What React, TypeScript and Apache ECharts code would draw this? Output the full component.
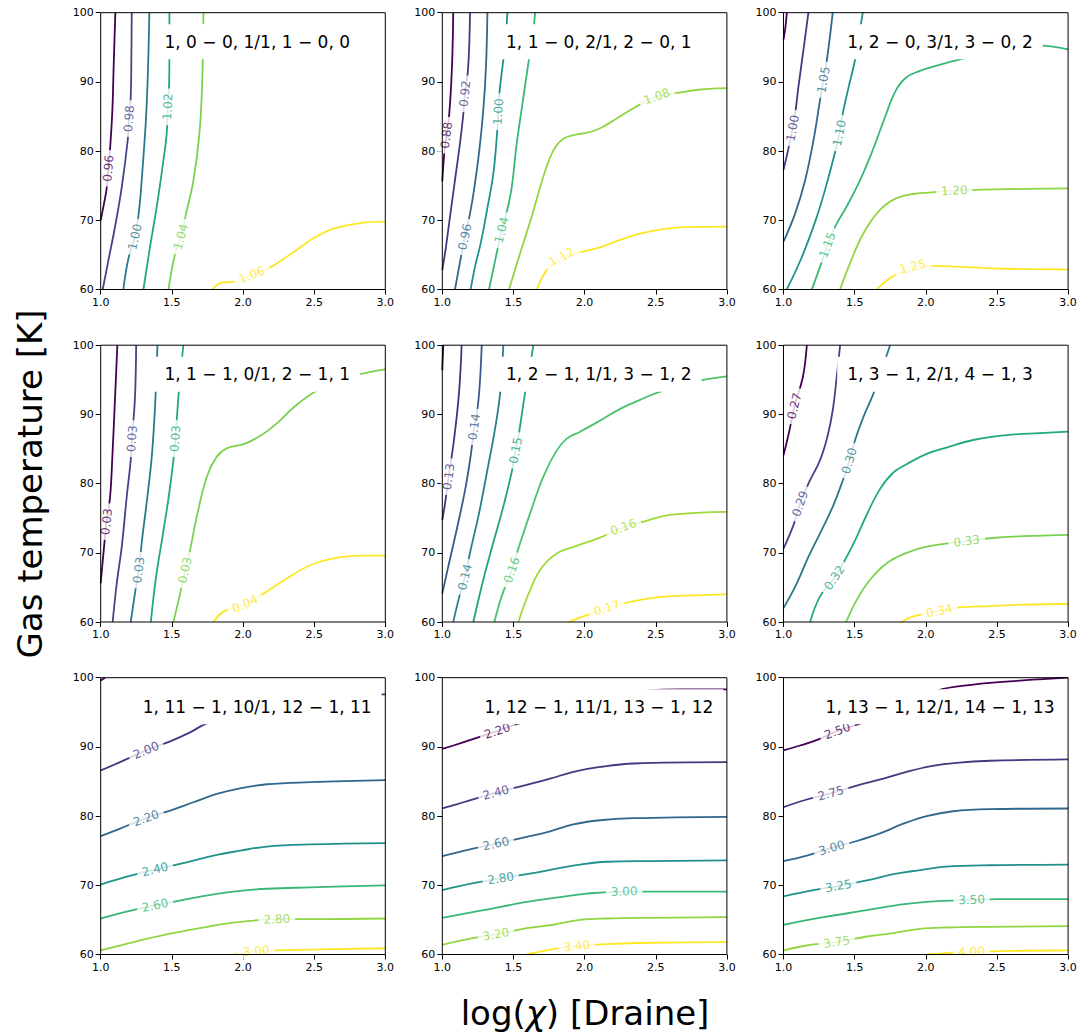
import React, { useEffect, useRef } from 'react';
import * as echarts from 'echarts';

// Axis ranges and ticks shared by all nine panels
const xTicks = [1.0, 1.5, 2.0, 2.5, 3.0];
const yTicks = [60, 70, 80, 90, 100];

const panelTitles = [
  '1, 0 − 0, 1/1, 1 − 0, 0',
  '1, 1 − 0, 2/1, 2 − 0, 1',
  '1, 2 − 0, 3/1, 3 − 0, 2',
  '1, 1 − 1, 0/1, 2 − 1, 1',
  '1, 2 − 1, 1/1, 3 − 1, 2',
  '1, 3 − 1, 2/1, 4 − 1, 3',
  '1, 11 − 1, 10/1, 12 − 1, 11',
  '1, 12 − 1, 11/1, 13 − 1, 12',
  '1, 13 − 1, 12/1, 14 − 1, 13',
];

// Each panel: contour level labels, contour paths [log chi, T], and the
// index of the path vertex where the inline label sits (-1 = no label).
const p1Values = ['0.96', '0.98', '1.00', '1.02', '1.04', '1.06'];
const p1Paths = [
  [[1.0, 70.0], [1.023, 72.4], [1.042, 74.6], [1.054, 77.5], [1.066, 80.4], [1.082, 85.9], [1.091, 92.2], [1.103, 100]],
  [[1.014, 60], [1.054, 64.2], [1.101, 69.1], [1.148, 74.8], [1.19, 81.6], [1.199, 84.7], [1.211, 87.9], [1.216, 94.6], [1.218, 100]],
  [[1.159, 60], [1.195, 64.5], [1.241, 67.6], [1.27, 71.5], [1.295, 77.7], [1.319, 85.0], [1.333, 92.2], [1.342, 100]],
  [[1.3, 60], [1.347, 66.2], [1.394, 72.0], [1.441, 78.7], [1.464, 82.6], [1.471, 86.4], [1.481, 89.8], [1.483, 94.6], [1.483, 100]],
  [[1.476, 60], [1.523, 65.2], [1.563, 67.6], [1.6, 71.0], [1.652, 75.8], [1.694, 82.6], [1.713, 89.8], [1.722, 100]],
  [[1.785, 60], [1.851, 61.0], [1.933, 61.1], [2.062, 62.1], [2.191, 63.2], [2.355, 65.4], [2.496, 67.4], [2.637, 68.8], [2.824, 69.6], [3.0, 69.8]],
];
const p1LabelAt = [3, 5, 2, 5, 2, 3];

const p2Values = ['0.88', '0.92', '0.96', '1.00', '1.04', '1.08', '1.12'];
const p2Paths = [
  [[1.077, 100], [1.068, 92.2], [1.049, 85.4], [1.03, 82.3], [1.014, 79.7], [1.0, 75.6]],
  [[1.195, 100], [1.188, 94.6], [1.178, 91.2], [1.159, 88.3], [1.148, 85.4], [1.124, 81.1], [1.089, 75.8], [1.054, 70.5], [1.026, 66.2], [1.0, 62.8]],
  [[1.317, 100], [1.307, 92.2], [1.288, 85.9], [1.26, 80.1], [1.223, 74.4], [1.195, 71.0], [1.159, 67.6], [1.131, 64.7], [1.089, 60]],
  [[1.457, 100], [1.443, 95.6], [1.42, 91.7], [1.401, 88.3], [1.394, 85.7], [1.385, 82.6], [1.359, 76.8], [1.319, 72.0], [1.27, 66.7], [1.23, 63.3], [1.199, 60]],
  [[1.652, 100], [1.635, 96.5], [1.605, 92.7], [1.56, 86.4], [1.523, 81.1], [1.488, 74.8], [1.453, 71.2], [1.417, 68.6], [1.387, 65.7], [1.328, 60]],
  [[1.469, 60], [1.546, 65.2], [1.628, 70.5], [1.71, 76.3], [1.781, 80.1], [1.851, 81.8], [1.945, 82.4], [2.027, 82.7], [2.109, 83.3], [2.226, 84.7], [2.343, 86.2], [2.508, 87.9], [2.648, 88.4], [2.812, 88.9], [3.0, 89.1]],
  [[1.664, 60], [1.734, 62.8], [1.839, 64.7], [1.968, 65.4], [2.109, 66.1], [2.297, 67.5], [2.484, 68.5], [2.695, 69.0], [3.0, 69.1]],
];
const p2LabelAt = [3, 3, 6, 4, 7, 11, 2];

const p3Values = ['0.95', '1.00', '1.05', '1.10', '1.15', '1.20', '1.25'];
const p3Paths = [
  [[1.023, 100], [1.014, 98.0], [1.0, 96.1]],
  [[1.175, 100], [1.14, 94.6], [1.105, 89.3], [1.087, 86.2], [1.065, 83.3], [1.035, 80.4], [1.0, 77.3]],
  [[1.346, 100], [1.323, 96.0], [1.299, 92.4], [1.281, 90.3], [1.257, 87.4], [1.211, 81.6], [1.152, 75.8], [1.082, 71.0], [1.0, 66.9]],
  [[1.557, 100], [1.529, 96.5], [1.503, 93.2], [1.456, 89.1], [1.416, 85.4], [1.393, 82.6], [1.363, 79.9], [1.304, 75.3], [1.234, 70.5], [1.129, 64.7], [1.023, 60]],
  [[1.199, 60], [1.269, 64.0], [1.309, 66.4], [1.363, 69.1], [1.444, 72.0], [1.538, 75.8], [1.632, 80.4], [1.715, 85.0], [1.785, 88.6], [1.86, 90.6], [1.959, 91.6], [2.053, 92.2], [2.17, 92.9], [2.287, 93.5], [2.474, 94.6], [2.684, 95.3], [2.848, 95.2], [3.0, 94.7]],
  [[1.398, 60], [1.468, 63.8], [1.561, 68.1], [1.678, 71.5], [1.795, 73.2], [1.912, 73.8], [2.018, 74.0], [2.2, 74.3], [2.357, 74.4], [2.567, 74.5], [3.0, 74.6]],
  [[1.655, 60], [1.725, 61.3], [1.795, 62.2], [1.908, 63.3], [2.029, 63.4], [2.216, 63.3], [2.567, 63.0], [3.0, 62.9]],
];
const p3LabelAt = [-1, 4, 3, 5, 2, 7, 3];

const p4Values = ['0.03', '0.03', '0.03', '0.03', '0.03', '0.04'];
const p4Paths = [
  [[1.117, 100], [1.101, 92.5], [1.082, 83.9], [1.066, 78.1], [1.042, 74.5], [1.026, 71.4], [1.0, 65.6]],
  [[1.249, 100], [1.241, 92.5], [1.22, 86.5], [1.211, 83.4], [1.183, 78.1], [1.148, 70.9], [1.113, 65.6], [1.084, 60]],
  [[1.399, 100], [1.385, 92.5], [1.361, 84.4], [1.328, 78.1], [1.293, 72.3], [1.267, 67.5], [1.244, 64.6], [1.211, 60]],
  [[1.581, 100], [1.563, 96.4], [1.546, 92.5], [1.525, 86.5], [1.511, 83.4], [1.478, 78.1], [1.434, 72.3], [1.389, 66.5], [1.352, 60]],
  [[1.511, 60], [1.558, 64.1], [1.593, 67.5], [1.628, 70.4], [1.675, 75.2], [1.746, 81.0], [1.816, 83.9], [1.886, 85.1], [2.004, 85.7], [2.121, 86.9], [2.238, 88.7], [2.355, 91.0], [2.508, 93.3], [2.66, 94.7], [2.801, 95.7], [3.0, 96.5]],
  [[1.793, 60], [1.863, 61.5], [2.015, 62.6], [2.144, 64.1], [2.308, 66.3], [2.472, 68.2], [2.637, 69.2], [2.824, 69.6], [3.0, 69.6]],
];
const p4LabelAt = [4, 2, 5, 3, 2, 2];

const p5Values = ['', '0.13', '0.14', '0.14', '0.15', '0.16', '0.16', '0.17'];
const p5Paths = [
  [[1.007, 100], [1.002, 97.5], [1.0, 96.4]],
  [[1.136, 100], [1.117, 93.0], [1.082, 86.3], [1.045, 81.0], [1.019, 77.1], [1.0, 74.7]],
  [[1.277, 100], [1.265, 94.9], [1.249, 91.1], [1.225, 88.2], [1.202, 84.4], [1.164, 79.5], [1.106, 73.8], [1.042, 68.0], [1.0, 64.1]],
  [[1.429, 100], [1.406, 93.0], [1.373, 88.2], [1.317, 82.0], [1.258, 75.7], [1.199, 70.4], [1.159, 66.5], [1.12, 63.7], [1.077, 60]],
  [[1.64, 100], [1.612, 96.4], [1.581, 93.0], [1.542, 87.7], [1.516, 84.8], [1.49, 81.9], [1.434, 77.1], [1.363, 71.8], [1.293, 66.5], [1.218, 60]],
  [[1.366, 60], [1.417, 63.7], [1.488, 67.5], [1.539, 70.9], [1.617, 75.7], [1.71, 81.0], [1.804, 84.8], [1.875, 86.5], [1.968, 87.5], [2.109, 89.1], [2.25, 90.8], [2.39, 92.1], [2.531, 93.3], [2.695, 94.2], [2.812, 94.9], [3.0, 95.5]],
  [[1.535, 60], [1.593, 63.4], [1.687, 67.5], [1.804, 69.9], [1.945, 71.0], [2.109, 72.2], [2.273, 73.7], [2.414, 74.5], [2.578, 75.4], [2.812, 75.8], [3.0, 75.9]],
  [[1.886, 60], [2.015, 61.0], [2.156, 62.0], [2.32, 62.9], [2.484, 63.5], [2.695, 63.8], [3.0, 64.0]],
];
const p5LabelAt = [-1, 3, 3, 6, 4, 2, 6, 2];

const p6Values = ['0.27', '0.29', '0.30', '0.32', '0.33', '0.34'];
const p6Paths = [
  [[1.164, 100], [1.136, 95.4], [1.077, 91.2], [1.047, 88.2], [1.023, 86.0], [1.0, 84.1]],
  [[1.398, 100], [1.374, 95.4], [1.346, 90.6], [1.309, 86.8], [1.257, 83.4], [1.175, 80.0], [1.117, 77.1], [1.07, 74.0], [1.0, 70.6]],
  [[1.749, 100], [1.713, 97.8], [1.632, 93.0], [1.561, 89.6], [1.503, 86.3], [1.463, 83.3], [1.421, 80.7], [1.351, 76.9], [1.269, 73.3], [1.175, 69.4], [1.082, 65.1], [1.0, 62.0]],
  [[1.187, 60], [1.257, 63.7], [1.358, 66.4], [1.433, 69.0], [1.503, 71.8], [1.585, 75.5], [1.678, 79.2], [1.772, 81.6], [1.865, 82.8], [2.006, 84.3], [2.146, 85.2], [2.333, 86.3], [2.567, 87.0], [2.801, 87.3], [3.0, 87.5]],
  [[1.44, 60], [1.515, 63.2], [1.608, 66.1], [1.725, 68.5], [1.865, 70.0], [2.006, 70.9], [2.287, 71.7], [2.45, 72.1], [2.684, 72.4], [3.0, 72.6]],
  [[1.83, 60], [1.912, 60.8], [2.095, 61.6], [2.24, 62.1], [2.45, 62.3], [2.684, 62.5], [3.0, 62.6]],
];
const p6LabelAt = [2, 6, 5, 2, 6, 2];

const p7Values = ['', '2.00', '2.20', '2.40', '2.60', '2.80', '3.00'];
const p7Paths = [
  [[1.0, 99.6], [1.03, 100]],
  [[1.0, 86.6], [1.136, 87.8], [1.319, 89.5], [1.488, 90.8], [1.628, 92.1], [1.746, 93.4], [2.004, 95.0], [2.355, 96.5], [2.707, 97.4], [3.0, 97.6]],
  [[1.0, 77.1], [1.136, 78.2], [1.319, 79.7], [1.488, 80.8], [1.652, 82.0], [1.816, 83.2], [1.98, 84.0], [2.168, 84.6], [2.472, 84.9], [3.0, 85.2]],
  [[1.0, 70.1], [1.159, 71.1], [1.382, 72.3], [1.605, 73.3], [1.793, 74.3], [1.98, 75.0], [2.168, 75.6], [2.472, 75.9], [3.0, 76.1]],
  [[1.0, 65.2], [1.159, 66.1], [1.382, 67.1], [1.605, 68.0], [1.793, 68.7], [1.98, 69.2], [2.168, 69.5], [2.472, 69.7], [3.0, 70.0]],
  [[1.0, 60.6], [1.23, 61.8], [1.488, 63.0], [1.746, 64.0], [1.98, 64.7], [2.238, 65.1], [2.472, 65.1], [3.0, 65.2]],
  [[1.933, 60], [2.093, 60.5], [2.238, 60.6], [2.472, 60.7], [3.0, 60.9]],
];
const p7LabelAt = [-1, 2, 2, 2, 2, 5, 1];

const p8Values = ['2.20', '2.40', '2.60', '2.80', '3.00', '3.20', '3.40'];
const p8Paths = [
  [[1.0, 89.7], [1.124, 90.5], [1.242, 91.3], [1.387, 92.3], [1.511, 93.2], [1.757, 94.6], [2.109, 96.7], [2.426, 98.1], [2.695, 98.3], [3.0, 98.3]],
  [[1.0, 81.1], [1.148, 82.0], [1.377, 83.4], [1.593, 84.5], [1.757, 85.4], [1.921, 86.4], [2.109, 87.1], [2.343, 87.6], [3.0, 87.8]],
  [[1.0, 74.2], [1.171, 75.1], [1.377, 76.0], [1.593, 77.0], [1.757, 77.8], [1.921, 78.8], [2.109, 79.4], [2.343, 79.7], [3.0, 79.9]],
  [[1.0, 69.3], [1.218, 70.3], [1.41, 71.0], [1.593, 71.6], [1.804, 72.4], [1.968, 73.0], [2.156, 73.4], [2.461, 73.5], [3.0, 73.6]],
  [[1.0, 65.3], [1.288, 66.4], [1.593, 67.6], [1.828, 68.3], [2.015, 68.8], [2.278, 69.1], [2.531, 69.1], [3.0, 69.1]],
  [[1.0, 61.4], [1.171, 62.2], [1.377, 62.9], [1.593, 63.8], [1.781, 64.3], [1.968, 65.0], [2.156, 65.2], [2.461, 65.3], [3.0, 65.4]],
  [[1.593, 60], [1.734, 60.6], [1.945, 61.2], [2.156, 61.5], [2.461, 61.7], [3.0, 61.8]],
];
const p8LabelAt = [3, 2, 2, 2, 5, 2, 2];

const p9Values = ['2.50', '2.75', '3.00', '3.25', '3.50', '3.75', '4.00'];
const p9Paths = [
  [[1.0, 89.5], [1.117, 90.2], [1.246, 91.1], [1.379, 92.3], [1.515, 93.2], [1.749, 95.0], [2.076, 98.1], [2.333, 99.0], [2.684, 99.6], [3.0, 100]],
  [[1.0, 81.3], [1.164, 82.4], [1.332, 83.3], [1.515, 84.4], [1.702, 85.4], [1.866, 86.4], [2.029, 87.2], [2.216, 87.7], [2.45, 88.0], [3.0, 88.2]],
  [[1.0, 73.5], [1.164, 74.3], [1.339, 75.4], [1.515, 76.4], [1.678, 77.5], [1.842, 78.9], [2.006, 80.0], [2.193, 80.7], [2.45, 81.0], [3.0, 81.1]],
  [[1.0, 68.4], [1.211, 69.3], [1.386, 69.9], [1.585, 70.7], [1.772, 71.6], [1.959, 72.2], [2.146, 72.7], [2.45, 72.9], [3.0, 73.0]],
  [[1.0, 64.3], [1.281, 65.4], [1.585, 66.4], [1.819, 67.2], [2.006, 67.6], [2.322, 67.9], [2.52, 68.0], [3.0, 68.0]],
  [[1.0, 60.6], [1.164, 61.3], [1.374, 61.8], [1.585, 62.6], [1.772, 63.1], [1.959, 63.7], [2.146, 63.9], [2.45, 64.0], [3.0, 64.1]],
  [[2.006, 60], [2.146, 60.2], [2.322, 60.4], [2.52, 60.5], [3.0, 60.6]],
];
const p9LabelAt = [3, 2, 2, 2, 5, 2, 2];

const panels = [
  { values: p1Values, paths: p1Paths, labelAt: p1LabelAt },
  { values: p2Values, paths: p2Paths, labelAt: p2LabelAt },
  { values: p3Values, paths: p3Paths, labelAt: p3LabelAt },
  { values: p4Values, paths: p4Paths, labelAt: p4LabelAt },
  { values: p5Values, paths: p5Paths, labelAt: p5LabelAt },
  { values: p6Values, paths: p6Paths, labelAt: p6LabelAt },
  { values: p7Values, paths: p7Paths, labelAt: p7LabelAt },
  { values: p8Values, paths: p8Paths, labelAt: p8LabelAt },
  { values: p9Values, paths: p9Paths, labelAt: p9LabelAt },
];

// Layout of the 3x3 grid of axes (pixels)
const COL_LEFT = [100.7, 442.3, 783.5];
const ROW_TOP = [12.7, 345.2, 677.7];
const AX_W = 284.6;
const AX_H = 276.8;
const FONT = "'DejaVu Sans', sans-serif";

const VIRIDIS_STOPS = [
  '#440154', '#482475', '#414487', '#355f8d', '#2a788e', '#21918c',
  '#22a884', '#44bf70', '#7ad151', '#bddf26', '#fde725',
];

function hexToRgb(h: string) {
  const n = parseInt(h.slice(1), 16);
  return [(n >> 16) & 255, (n >> 8) & 255, n & 255];
}

function viridis(t: number) {
  const s = Math.max(0, Math.min(1, t)) * 10;
  const i = Math.min(9, Math.floor(s));
  const f = s - i;
  const a = hexToRgb(VIRIDIS_STOPS[i]);
  const b = hexToRgb(VIRIDIS_STOPS[i + 1]);
  const c = a.map((v, k) => Math.round(v + (b[k] - v) * f));
  return `rgb(${c[0]},${c[1]},${c[2]})`;
}

function labelAngle(pts: number[][], idx: number) {
  const xmin = xTicks[0];
  const xmax = xTicks[xTicks.length - 1];
  const ymin = yTicks[0];
  const ymax = yTicks[yTicks.length - 1];
  const p0 = pts[Math.max(0, idx - 1)];
  const p1 = pts[Math.min(pts.length - 1, idx + 1)];
  const dx = ((p1[0] - p0[0]) * AX_W) / (xmax - xmin);
  const dy = ((p1[1] - p0[1]) * AX_H) / (ymax - ymin);
  let a = (Math.atan2(dy, dx) * 180) / Math.PI;
  if (a > 90) a -= 180;
  if (a < -90) a += 180;
  return a;
}

function buildOption() {
  const grid: any[] = [];
  const xAxis: any[] = [];
  const yAxis: any[] = [];
  const series: any[] = [];
  const graphics: any[] = [];

  panels.forEach((p, i) => {
    const row = Math.floor(i / 3);
    const col = i % 3;
    grid.push({
      left: COL_LEFT[col],
      top: ROW_TOP[row],
      width: AX_W,
      height: AX_H,
      show: true,
      borderColor: '#000',
      borderWidth: 1,
      backgroundColor: 'transparent',
      z: 4,
      containLabel: false,
    });
    xAxis.push({
      gridIndex: i,
      type: 'value',
      min: xTicks[0],
      max: xTicks[xTicks.length - 1],
      interval: xTicks[1] - xTicks[0],
      axisLine: { show: false },
      axisTick: { show: true, length: 5, lineStyle: { color: '#000', width: 1 } },
      axisLabel: {
        fontSize: 11,
        color: '#000',
        fontFamily: FONT,
        margin: 7,
        formatter: (v: number) => v.toFixed(1),
      },
      splitLine: { show: false },
    });
    yAxis.push({
      gridIndex: i,
      type: 'value',
      min: yTicks[0],
      max: yTicks[yTicks.length - 1],
      interval: yTicks[1] - yTicks[0],
      axisLine: { show: false },
      axisTick: { show: true, length: 5, lineStyle: { color: '#000', width: 1 } },
      axisLabel: { fontSize: 11, color: '#000', fontFamily: FONT, margin: 7 },
      splitLine: { show: false },
    });

    const n = p.paths.length;
    const colors = p.paths.map((_, k) => viridis(n > 1 ? k / (n - 1) : 0));

    p.paths.forEach((pts, k) => {
      series.push({
        type: 'line',
        xAxisIndex: i,
        yAxisIndex: i,
        data: pts,
        symbol: 'none',
        smooth: 0.4,
        silent: true,
        z: 2,
        lineStyle: { color: colors[k], width: 1.8 },
      });
    });

    const labelData = p.paths
      .map((pts, k) => {
        const idx = p.labelAt[k];
        if (idx < 0) return null;
        return {
          value: pts[idx],
          label: {
            formatter: p.values[k],
            rotate: labelAngle(pts, idx),
            color: colors[k],
          },
        };
      })
      .filter(Boolean);

    series.push({
      type: 'scatter',
      xAxisIndex: i,
      yAxisIndex: i,
      data: labelData,
      symbolSize: 1,
      silent: true,
      z: 3,
      itemStyle: { color: 'rgba(0,0,0,0)' },
      label: {
        show: true,
        position: 'inside',
        fontSize: 12,
        fontFamily: FONT,
        backgroundColor: '#fff',
        padding: [1, 5],
      },
    });

    graphics.push({
      type: 'text',
      x: COL_LEFT[col] + 0.55 * AX_W,
      y: ROW_TOP[row] + 29,
      z: 10,
      silent: true,
      style: {
        text: panelTitles[i],
        fontSize: 17,
        fontFamily: FONT,
        fill: '#000',
        align: 'center',
        verticalAlign: 'middle',
        backgroundColor: '#fff',
        padding: [9, 10],
      },
    });
  });

  graphics.push({
    type: 'text',
    x: 30,
    y: 484,
    rotation: Math.PI / 2,
    z: 10,
    silent: true,
    style: {
      text: 'Gas temperature [K]',
      fontSize: 34,
      fontFamily: FONT,
      fill: '#000',
      align: 'center',
      verticalAlign: 'middle',
    },
  });

  graphics.push({
    type: 'text',
    x: 585,
    y: 1013,
    z: 10,
    silent: true,
    style: {
      text: 'log({i|χ}) [Draine]',
      fontSize: 34,
      fontFamily: FONT,
      fill: '#000',
      align: 'center',
      verticalAlign: 'middle',
      rich: {
        i: { fontStyle: 'italic', fontSize: 34, fontFamily: FONT, fill: '#000' },
      },
    },
  });

  return {
    animation: false,
    backgroundColor: '#fff',
    grid,
    xAxis,
    yAxis,
    series,
    graphic: { elements: graphics },
  };
}

export default function App() {
  const ref = useRef<HTMLDivElement>(null);

  useEffect(() => {
    document.body.style.margin = '0';
    if (!ref.current) return;
    const chart = echarts.init(ref.current, undefined, { renderer: 'svg' });
    chart.setOption(buildOption() as any);
    return () => chart.dispose();
  }, []);

  return <div ref={ref} style={{ width: 1081, height: 1036 }} />;
}
